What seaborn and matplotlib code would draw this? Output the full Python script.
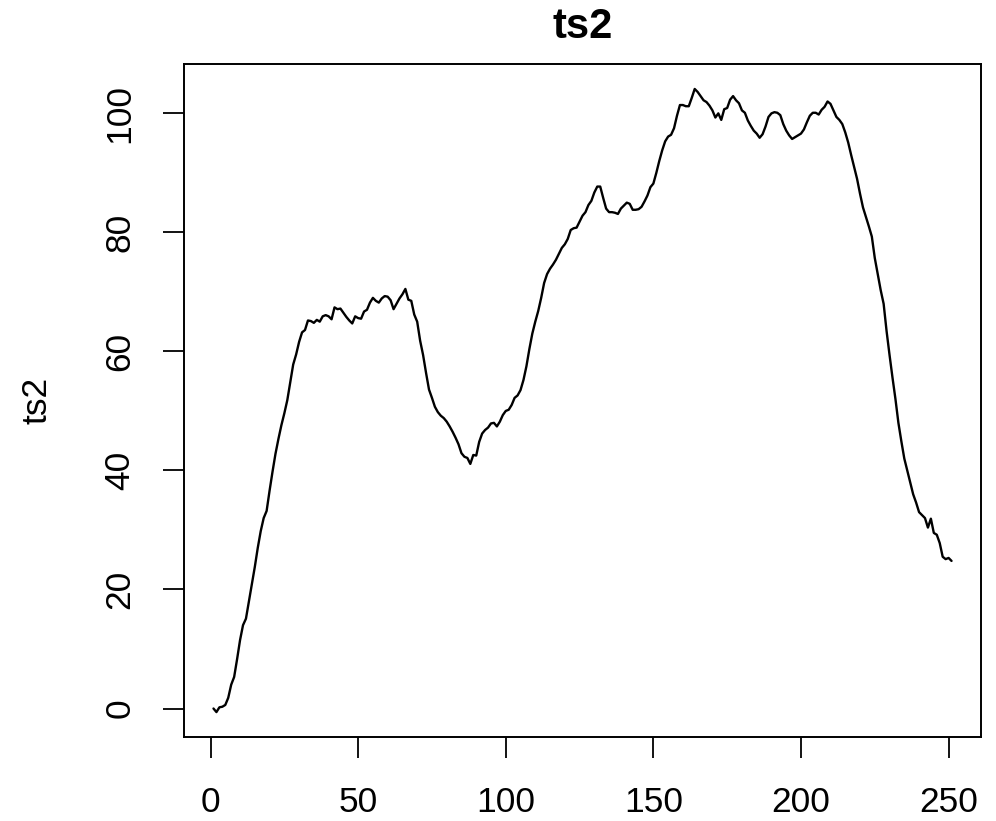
import numpy as np
import pandas as pd
import matplotlib
matplotlib.use("Agg")
import matplotlib.pyplot as plt
import seaborn as sns

# Series values, one per time step (t = 1 .. 251)
ts2 = [
    0.0, -0.6, 0.2, 0.3, 0.6, 1.8, 4.0, 5.3, 8.3, 11.5,
    14.0, 15.1, 18.0, 20.9, 23.8, 27.0, 29.8, 32.0, 33.2, 36.6,
    39.8, 42.8, 45.3, 47.6, 49.6, 51.8, 54.8, 57.8, 59.5, 61.6,
    63.2, 63.6, 65.2, 65.1, 64.8, 65.3, 65.0, 65.9, 66.1, 65.9,
    65.4, 67.4, 67.1, 67.2, 66.5, 65.8, 65.2, 64.7, 65.9, 65.6,
    65.5, 66.7, 67.0, 68.2, 69.0, 68.5, 68.2, 68.9, 69.3, 69.2,
    68.6, 67.1, 68.0, 68.9, 69.6, 70.5, 68.7, 68.5, 66.2, 65.0,
    61.8, 59.4, 56.4, 53.6, 52.2, 50.7, 49.8, 49.2, 48.8, 48.2,
    47.4, 46.5, 45.5, 44.4, 42.9, 42.3, 42.1, 41.1, 42.6, 42.5,
    44.8, 46.2, 46.8, 47.2, 47.9, 48.0, 47.4, 48.2, 49.3, 50.0,
    50.2, 51.0, 52.2, 52.6, 53.5, 55.2, 57.5, 60.4, 63.0, 65.0,
    66.8, 69.0, 71.5, 73.0, 73.9, 74.6, 75.4, 76.4, 77.4, 78.0,
    78.9, 80.4, 80.7, 80.8, 81.8, 82.8, 83.4, 84.6, 85.3, 86.7,
    87.7, 87.7, 85.8, 84.0, 83.4, 83.4, 83.3, 83.1, 84.0, 84.5,
    85.0, 84.8, 83.8, 83.8, 83.9, 84.3, 85.2, 86.2, 87.6, 88.2,
    90.0, 92.0, 93.8, 95.3, 96.1, 96.4, 97.5, 99.6, 101.4, 101.4,
    101.2, 101.2, 102.6, 104.1, 103.6, 102.9, 102.2, 101.9, 101.3, 100.5,
    99.3, 100.0, 98.9, 100.7, 100.9, 102.3, 102.9, 102.2, 101.7, 100.5,
    100.1, 98.8, 97.9, 97.1, 96.6, 95.9, 96.5, 97.8, 99.4, 100.0,
    100.2, 100.1, 99.7, 98.2, 97.1, 96.3, 95.7, 96.0, 96.3, 96.6,
    97.3, 98.5, 99.6, 100.1, 100.1, 99.8, 100.6, 101.1, 102.0, 101.6,
    100.5, 99.4, 98.9, 98.2, 96.8, 95.1, 93.0, 91.0, 89.0, 86.5,
    84.2, 82.6, 81.0, 79.3, 75.7, 73.0, 70.3, 68.0, 63.4, 59.4,
    55.6, 52.0, 48.0, 44.9, 42.0, 40.0, 38.0, 36.0, 34.6, 33.0,
    32.5, 32.0, 30.4, 31.9, 29.5, 29.2, 27.8, 25.5, 25.1, 25.3,
    24.8,
]
time_index = list(range(1, len(ts2) + 1))
x_ticks = [0, 50, 100, 150, 200, 250]
y_ticks = [0, 20, 40, 60, 80, 100]

sns.set_theme(style="ticks")
plt.rcParams["font.family"] = ["Liberation Sans", "DejaVu Sans"]
plt.rcParams["text.color"] = "black"
plt.rcParams["axes.labelcolor"] = "black"

df = pd.DataFrame({"t": time_index, "ts2": ts2})

fig = plt.figure(figsize=(9.96, 8.21), dpi=100)
ax = fig.add_axes([0.1847, 0.1023, 0.985 - 0.1847, 0.922 - 0.1023])

sns.lineplot(data=df, x="t", y="ts2", color="black", linewidth=1.7, ax=ax)

# R-style 4% padding around the data range
xr = max(time_index) - min(time_index)
ax.set_xlim(min(time_index) - 0.04 * xr, max(time_index) + 0.04 * xr)
yr = max(ts2) - min(ts2)
ax.set_ylim(min(ts2) - 0.04 * yr, max(ts2) + 0.04 * yr)

ax.set_xticks(x_ticks)
ax.set_yticks(y_ticks)
ax.set_xticklabels([str(v) for v in x_ticks])
ax.set_yticklabels([str(v) for v in y_ticks], rotation=90, va="center")

ax.tick_params(axis="both", direction="out", length=15, width=1.3,
               labelsize=25.5, colors="black")
ax.tick_params(axis="x", pad=20)
ax.tick_params(axis="y", pad=19)

for sp in ax.spines.values():
    sp.set_visible(True)
    sp.set_linewidth(1.4)
    sp.set_color("black")

ax.set_xlabel("")
ax.set_ylabel("ts2", fontsize=25.5, labelpad=36, color="black")
ax.set_title("ts2", fontsize=30, fontweight="bold", pad=19, color="black")

fig.savefig("out.png", dpi=100, facecolor="white")
